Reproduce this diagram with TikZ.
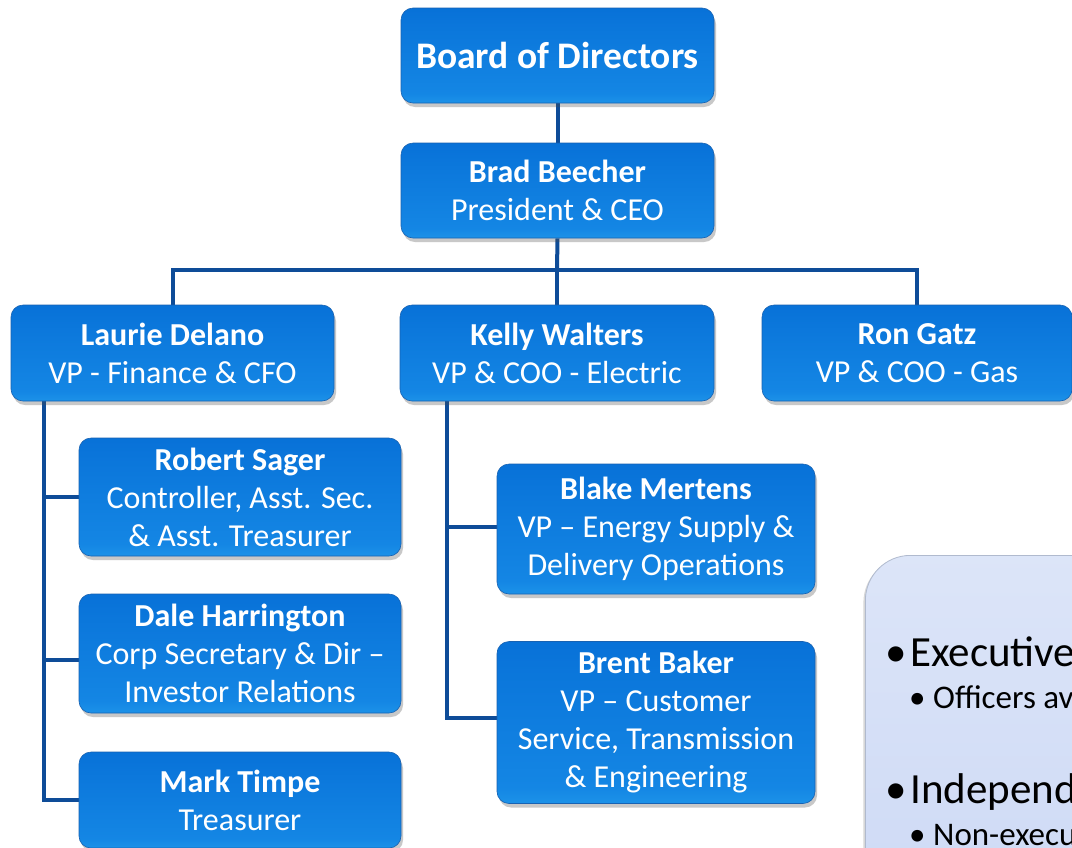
\documentclass[tikz,border=0pt]{standalone}
\usepackage{fontspec}
\setmainfont{Carlito}
\usetikzlibrary{shadows}

\definecolor{boxTop}{RGB}{0,100,208}
\definecolor{boxMid}{RGB}{20,134,228}
\definecolor{boxLow}{RGB}{48,176,242}
\definecolor{boxGlow}{RGB}{150,234,255}
\definecolor{boxEdge}{RGB}{24,98,178}
\definecolor{linkBlue}{RGB}{14,76,152}
\definecolor{panelTop}{RGB}{228,235,250}
\definecolor{panelBot}{RGB}{196,210,243}
\definecolor{panelEdge}{RGB}{176,186,206}

% vertical fills, listed from bottom to top
\pgfdeclareverticalshading{bluebevel}{100bp}{color(0bp)=(boxGlow); color(5bp)=(boxGlow!70!boxLow); color(13bp)=(boxLow); color(30bp)=(boxMid); color(65bp)=(boxMid!55!boxTop); color(100bp)=(boxTop)}
\pgfdeclareverticalshading{notefill}{100bp}{color(0bp)=(panelBot); color(100bp)=(panelTop)}

\pgfdeclarelayer{bg}
\pgfsetlayers{bg,main}

\tikzset{
  orgbox/.style={rectangle, rounded corners=12pt, shading=bluebevel, draw=boxEdge,
    line width=0.6pt, text=white, align=center, inner sep=0pt,
    font=\fontsize{32}{38}\selectfont,
    drop shadow={shadow xshift=2pt, shadow yshift=-4pt, opacity=0.3, fill=black!70}},
  link/.style={draw=linkBlue, line width=4pt},
  notepanel/.style={rectangle, rounded corners=45pt, shading=notefill, draw=panelEdge,
    line width=0.8pt, inner sep=0pt,
    drop shadow={shadow xshift=-2pt, shadow yshift=-2pt, opacity=0.25, fill=black!60}},
  bigitem/.style={anchor=base west, inner sep=0pt, text=black, font=\fontsize{43}{48}\selectfont},
  smallitem/.style={anchor=base west, inner sep=0pt, text=black, font=\fontsize{33}{36}\selectfont},
}

\begin{document}
\begin{tikzpicture}[x=1pt, y=-1pt]
  \useasboundingbox (0,0) rectangle (1072,847);
  \clip (0,0) rectangle (1072,847);

  % top of the hierarchy
  \node[orgbox, minimum width=313pt, minimum height=95pt, font=\fontsize{37.5}{44}\selectfont\bfseries]
    (board) at (557.5,55.5) {Board of Directors};
  \node[orgbox, minimum width=313pt, minimum height=95pt]
    (brad) at (557.5,190.5) {\textbf{Brad Beecher}\\President \& CEO};

  % vice presidents
  \node[orgbox, minimum width=323pt, minimum height=96pt]
    (laurie) at (172.5,353) {\textbf{Laurie Delano}\\VP - Finance \& CFO};
  \node[orgbox, minimum width=314pt, minimum height=96pt]
    (kelly) at (557,353) {\textbf{Kelly Walters}\\VP \& COO - Electric};
  \node[orgbox, minimum width=310pt, minimum height=96pt]
    (ron) at (917,353) {\textbf{Ron Gatz}\\VP \& COO - Gas};

  % finance reports
  \node[orgbox, minimum width=322pt, minimum height=118pt]
    (robert) at (240,497) {\textbf{Robert Sager}\\Controller, Asst. Sec.\\\& Asst. Treasurer};
  \node[orgbox, minimum width=322pt, minimum height=119pt]
    (dale) at (240,653.5) {\textbf{Dale Harrington}\\Corp Secretary \& Dir --\\Investor Relations};
  \node[orgbox, minimum width=322pt, minimum height=96pt]
    (mark) at (240,800) {\textbf{Mark Timpe}\\Treasurer};

  % electric reports
  \node[orgbox, minimum width=318pt, minimum height=130pt]
    (blake) at (656,529) {\textbf{Blake Mertens}\\VP -- Energy Supply \&\\Delivery Operations};
  \node[orgbox, minimum width=318pt, minimum height=162pt]
    (brent) at (656,722.5) {\textbf{Brent Baker}\\VP -- Customer\\Service, Transmission\\\& Engineering};

  % governance note
  \node[notepanel, anchor=north west, minimum width=300pt, minimum height=400pt]
    (notes) at (865,555) {};
  \node[bigitem] (exec) at (885,666) {\makebox[25pt][l]{\textbullet}Executive};
  \node[smallitem] (officers) at (909,708) {\makebox[24pt][l]{\textbullet}Officers available};
  \node[bigitem] (indep) at (885,803) {\makebox[25pt][l]{\textbullet}Independent};
  \node[smallitem] (nonexec) at (909,845) {\makebox[24pt][l]{\textbullet}Non-executive};

  % reporting lines, kept beneath the boxes
  \begin{pgfonlayer}{bg}
    \fill[white] (0,0) rectangle (1072,847);
    \coordinate (bus) at (557,270);
    \coordinate (lspine) at ([xshift=33pt]laurie.south west);
    \coordinate (kspine) at ([xshift=47.5pt]kelly.south west);

    \draw[link] (board.south) -- (brad.north);
    \draw[link] (brad.south) -- (bus);
    \draw[link] (laurie.north) |- (bus) -| (ron.north);
    \draw[link] (bus) -- (kelly.north);

    \draw[link] (lspine) |- (mark.west);
    \draw[link] (robert.west) -- (robert.west -| lspine);
    \draw[link] ([yshift=-6.5pt]dale.west) -- ([yshift=-6.5pt]dale.west -| lspine);

    \draw[link] (kspine) |- ([yshift=4.5pt]brent.west);
    \draw[link] ([yshift=2pt]blake.west) -- ([yshift=2pt]blake.west -| kspine);
  \end{pgfonlayer}
\end{tikzpicture}
\end{document}
